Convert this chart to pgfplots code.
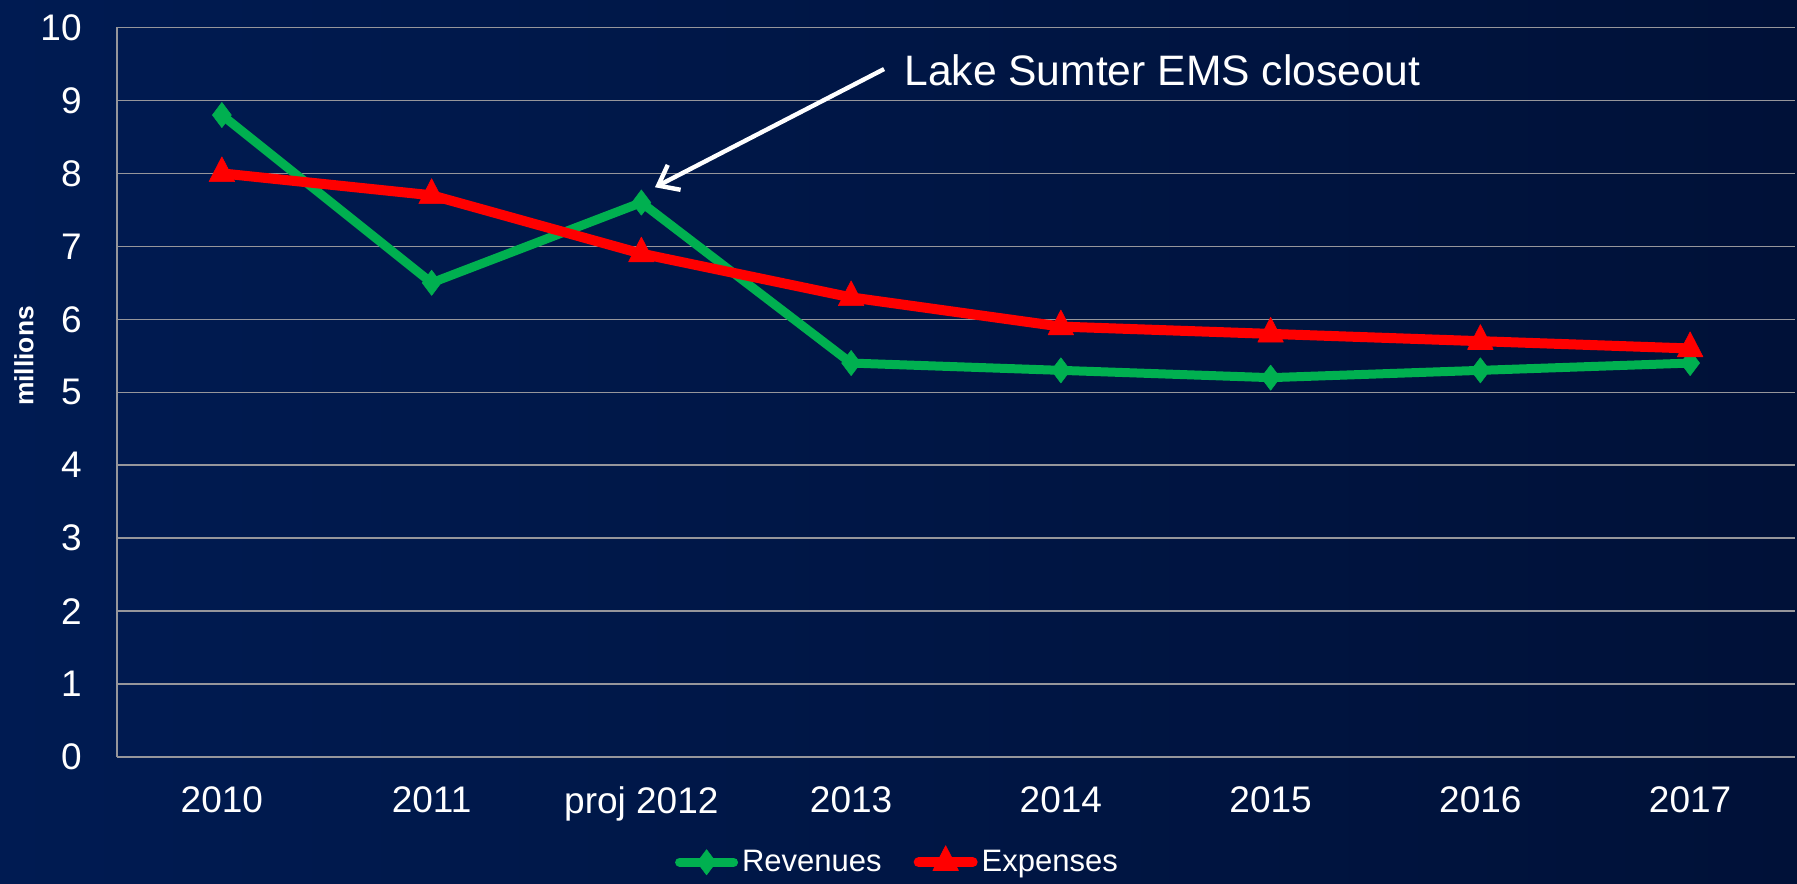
\documentclass[border=0pt]{standalone}
\usepackage{pgfplots}
\pgfplotsset{compat=1.18}
\usepackage{fontspec}
\setmainfont{Liberation Sans}
\usetikzlibrary{arrows.meta}
\definecolor{bgL}{RGB}{0,27,82}
\definecolor{bgM}{RGB}{0,32,94}
\definecolor{bgR}{RGB}{0,17,56}
\definecolor{gridc}{RGB}{150,150,155}
\definecolor{revc}{RGB}{0,176,80}
\definecolor{expc}{RGB}{255,0,0}
\begin{document}
\begin{tikzpicture}
\shade[left color=bgL, middle color=bgM, right color=bgR] (0,0) rectangle (898.5pt,441.5pt);
\useasboundingbox (0,0) rectangle (898.5pt,441.5pt);
\begin{axis}[
  at={(58.5pt,63pt)}, anchor=south west,
  scale only axis, width=839pt, height=364.75pt,
  xmin=-0.5, xmax=7.5, ymin=0, ymax=10,
  xtick={0,1,2,3,4,5,6,7},
  xticklabels={2010,2011,proj 2012,2013,2014,2015,2016,2017},
  ytick={0,1,2,3,4,5,6,7,8,9,10},
  axis x line*=bottom, axis y line*=left,
  axis line style={draw=gridc, line width=0.8pt, -},
  major tick length=0pt,
  ymajorgrids, grid style={draw=gridc, line width=0.7pt},
  /pgf/number format/assume math mode=true,
  tick label style={font=\fontsize{18.5}{22}\selectfont, text=white, inner sep=0pt},
  yticklabel style={anchor=east, xshift=-17.5pt},
  xticklabel style={anchor=north, yshift=-14.5pt},
  clip=false,
  legend style={at={(rel axis cs:0.4657,-0.144)}, anchor=center, draw=none, fill=none,
    text=white, font=\fontsize{15.5}{18}\selectfont, legend columns=2,
    /tikz/every even column/.append style={column sep=14pt}},
  legend cell align=left,
  legend image code/.code={\draw[mark repeat=2, mark phase=2, line cap=round, #1] plot coordinates {(0pt,0pt) (13.5pt,0pt) (27pt,0pt)};},
]
\addplot[revc, line width=4.5pt, line join=round, mark=diamond*, mark size=6.3pt,
  mark options={solid, fill=revc, draw=revc, line width=0.3pt}]
  coordinates {(0,8.8) (1,6.5) (2,7.6) (3,5.4) (4,5.3) (5,5.2) (6,5.3) (7,5.4)};
\addlegendentry{Revenues}
\addplot[expc, line width=5pt, line join=round, mark=triangle*, mark size=7.4pt,
  mark options={solid, fill=expc, draw=expc, line width=0.3pt, yscale=1.12}]
  coordinates {(0,8.0) (1,7.7) (2,6.9) (3,6.3) (4,5.9) (5,5.8) (6,5.7) (7,5.6)};
\addlegendentry{Expenses}
\draw[white, line width=2.2pt, -{Straight Barb[length=9pt, width=14pt, line width=2.2pt]}]
  (axis cs:3.157,9.43) -- (axis cs:2.065,7.81);
\node[anchor=west, inner sep=0pt, text=white, font=\fontsize{21.3}{25}\selectfont]
  at (axis cs:3.252,9.417) {Lake Sumter EMS closeout};
\end{axis}
\node[rotate=90, text=white, font=\bfseries\fontsize{13.2}{16}\selectfont, inner sep=0pt]
  at (12pt,263.5pt) {millions};
\end{tikzpicture}
\end{document}
